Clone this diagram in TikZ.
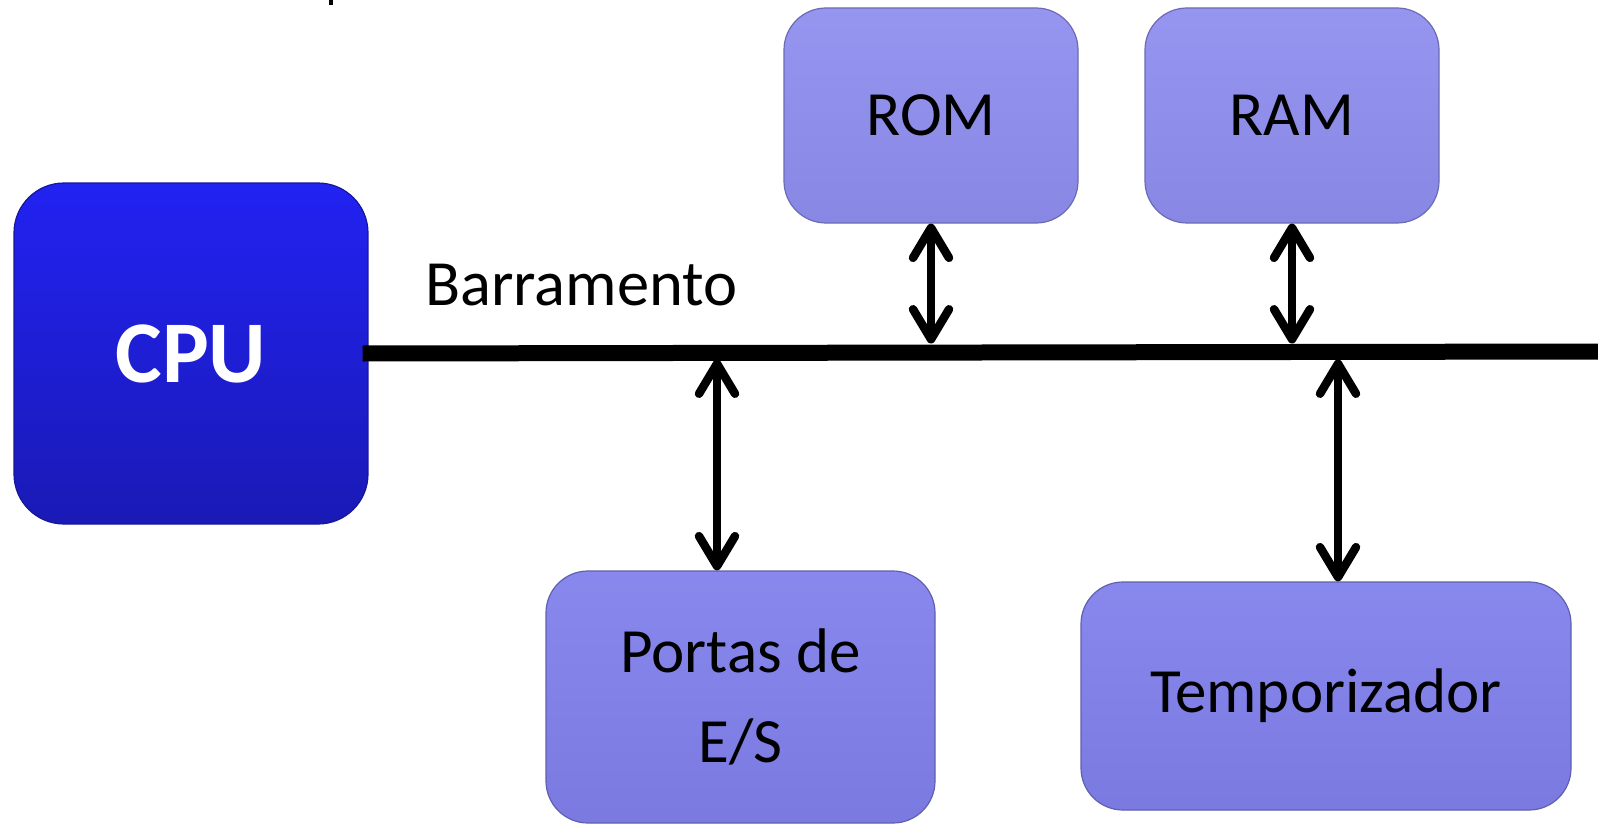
\documentclass[tikz,border=0pt]{standalone}
\usepackage{fontspec}
\setmainfont{Carlito}
\usetikzlibrary{arrows.meta,calc}

\definecolor{cpuTop}{RGB}{34,34,242}
\definecolor{cpuBot}{RGB}{26,26,182}
\definecolor{memFill}{RGB}{143,143,240}
\definecolor{perFill}{RGB}{128,128,236}

\tikzset{
  block/.style={rounded corners=42pt, inner sep=0pt, align=center,
    font=\fontsize{63}{90}\selectfont, text=black,
    draw=#1!75!black, line width=1.2pt,
    top color=#1!94!white, bottom color=#1!95!black},
  cpubox/.style={rounded corners=50pt, inner sep=0pt,
    draw=cpuBot!85!black, line width=1.2pt,
    top color=cpuTop, bottom color=cpuBot,
    text=white, font=\fontsize{88}{100}\selectfont\bfseries},
  busline/.style={line width=16pt},
  link/.style={line width=8.5pt, line cap=round,
    {Straight Barb[length=30pt, width=36pt, line cap=round, line join=round]}-%
    {Straight Barb[length=30pt, width=36pt, line cap=round, line join=round]}},
}

\begin{document}
\begin{tikzpicture}[x=1pt, y=-1pt]
  \useasboundingbox (0,0) rectangle (1598,824);

  % small mark at the top edge
  \fill (329,0) rectangle (332.5,5);

  % blocks
  \node[cpubox, minimum width=354pt, minimum height=341pt] (cpu) at (191,353.5) {CPU};
  \node[block=memFill, minimum width=294pt, minimum height=215pt] (rom) at (931,115.5) {ROM};
  \node[block=memFill, minimum width=294pt, minimum height=215pt] (ram) at (1292,115.5) {RAM};
  \node[block=perFill, minimum width=389pt, minimum height=252pt] (io) at (740.5,697)
    {Portas de\\E/S};
  \node[block=perFill, minimum width=490pt, minimum height=228pt] (tmr) at (1326,696)
    {Temporizador};

  % system bus
  \coordinate (busL) at ([xshift=-6pt]cpu.east);
  \coordinate (busR) at (1598,351.5);
  \draw[busline] (busL) -- (busR);
  \coordinate (busTop) at (0,343.5);
  \coordinate (busBot) at (0,359.5);
  \node[anchor=base west, inner sep=0pt, font=\fontsize{64.5}{70}\selectfont]
    (barlbl) at (425,305) {Barramento};

  % bus connections
  \coordinate (ioTop) at ($(io.north)+(-23.5,0)$);
  \coordinate (tmrTop) at ($(tmr.north)+(12,0)$);
  \draw[link] (rom.south) -- (rom.south |- busTop);
  \draw[link] (ram.south) -- (ram.south |- busTop);
  \draw[link] (ioTop |- busBot) -- (ioTop);
  \draw[link] (tmrTop |- busBot) -- (tmrTop);
\end{tikzpicture}
\end{document}
